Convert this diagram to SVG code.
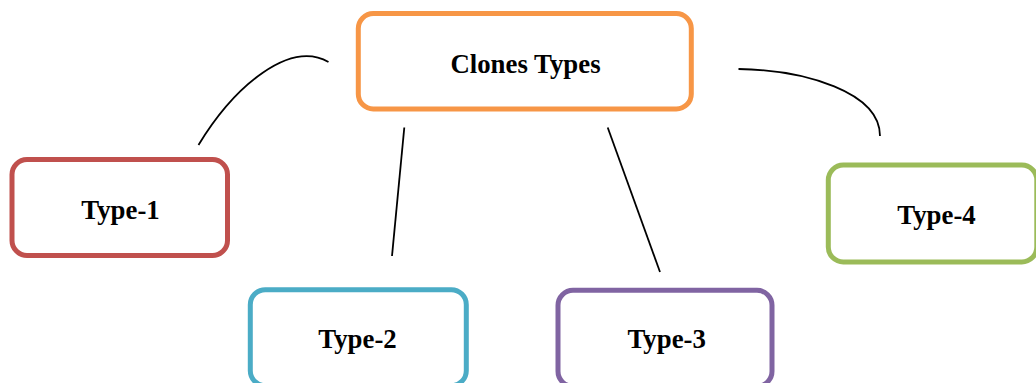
<svg xmlns="http://www.w3.org/2000/svg" width="1036" height="383" viewBox="0 0 1036 383">
<style>
.box{fill:#fff;stroke-width:5}
.lbl{font-family:"Liberation Serif","Times New Roman",serif;font-weight:bold;font-size:26.8px;fill:#000;text-anchor:middle}
.con{fill:none;stroke:#000;stroke-width:1.8}
</style>
<rect width="1036" height="383" fill="#fff"/>
<g id="connectors">
<path class="con" d="M198.5,145 C235,85 290,40 328.5,62"/>
<path class="con" d="M738.5,69 C805,70 880,92 880,136"/>
<path class="con" d="M404.3,127.5 L392,256"/>
<path class="con" d="M607.7,127.5 L660,272"/>
</g>
<g id="clones-types">
<rect class="box" x="358.3" y="13.5" width="333" height="95.5" rx="15" stroke="#F79646"/>
<text class="lbl" x="525.5" y="72.7">Clones Types</text>
</g>
<g id="type-1">
<rect class="box" x="12" y="159.5" width="215.5" height="96" rx="15" stroke="#C0504D"/>
<text class="lbl" x="120.5" y="219.3">Type-1</text>
</g>
<g id="type-2">
<rect class="box" x="250.3" y="289.7" width="216" height="96" rx="15" stroke="#4BACC6"/>
<text class="lbl" x="357.5" y="348.3">Type-2</text>
</g>
<g id="type-3">
<rect class="box" x="558" y="290.3" width="214" height="96" rx="15" stroke="#8064A2"/>
<text class="lbl" x="666.7" y="348.3">Type-3</text>
</g>
<g id="type-4">
<rect class="box" x="828.3" y="165" width="208.5" height="97" rx="15" stroke="#9BBB59"/>
<text class="lbl" x="936.5" y="224.3">Type-4</text>
</g>
</svg>
